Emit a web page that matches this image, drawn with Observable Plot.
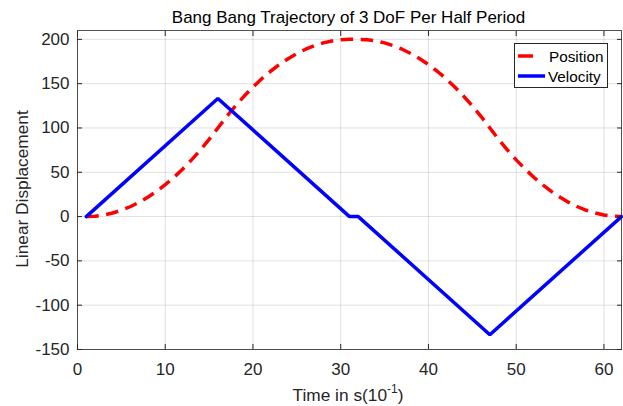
<!DOCTYPE html>
<html>
<head>
<meta charset="utf-8">
<script src="https://cdn.jsdelivr.net/npm/d3@7"></script>
<script src="https://cdn.jsdelivr.net/npm/@observablehq/plot@0.6"></script>
<style>
  html, body { margin: 0; padding: 0; background: #fff; }
  #chart { width: 623px; height: 406px; }
</style>
</head>
<body>
<div id="chart"></div>
<script>
const titleText = "Bang Bang Trajectory of 3 DoF Per Half Period";
const xLabelMain = "Time in s(10";
const xLabelSup = "-1";
const xLabelEnd = ")";
const yLabelText = "Linear Displacement";
const seriesNames = ["Position", "Velocity"];
const seriesColors = ["#ff0000", "#0000ff"];

const positionTime = [1,2,3,4,5,6,7,8,9,10,11,12,13,14,15,16,17,18,19,20,21,22,23,24,25,26,27,28,29,30,31,32,33,34,35,36,37,38,39,40,41,42,43,44,45,46,47,48,49,50,51,52,53,54,55,56,57,58,59,60,61,62];
const positionValue = [0,0.4,1.8,4,7.1,11.1,16,21.8,28.4,36,44.4,53.8,64,75.1,87.1,100,112.9,124.9,136,146.2,155.6,164,171.6,178.2,184,188.9,192.9,196,198.2,199.6,200,200,199.6,198.2,196,192.9,188.9,184,178.2,171.6,164,155.6,146.2,136,124.9,112.9,100,87.1,75.1,64,53.8,44.4,36,28.4,21.8,16,11.1,7.1,4,1.8,0.4,0];

const velocityTime = [1,16,31,32,47,62];
const velocityValue = [0,133.3,0,0,-133.3,0];

const xTicks = [0,10,20,30,40,50,60];
const yTicks = [-150,-100,-50,0,50,100,150,200];

const position = positionTime.map((t, i) => ({t, v: positionValue[i]}));
const velocity = velocityTime.map((t, i) => ({t, v: velocityValue[i]}));

const FONT = "'Liberation Sans', Arial, Helvetica, sans-serif";
const axisColor = "#262626";
const fmt = d => String(d);

const plot = Plot.plot({
  width: 623,
  height: 406,
  marginTop: 30,
  marginLeft: 77,
  marginRight: 2,
  marginBottom: 57,
  style: {fontFamily: FONT, fontSize: "17px", color: axisColor, background: "#fff"},
  x: {domain: [0, 62], ticks: xTicks},
  y: {domain: [-150, 210], ticks: yTicks},
  marks: [
    Plot.gridX(xTicks, {stroke: "#000", strokeOpacity: 0.12}),
    Plot.gridY(yTicks, {stroke: "#000", strokeOpacity: 0.12}),
    Plot.line(position, {x: "t", y: "v", stroke: seriesColors[0], strokeWidth: 3.5, strokeDasharray: "12.5,7.5", strokeLinecap: "butt"}),
    Plot.line(velocity, {x: "t", y: "v", stroke: seriesColors[1], strokeWidth: 3.5, strokeLinejoin: "miter"}),
    Plot.axisX(xTicks, {anchor: "bottom", tickSize: 0, tickPadding: 13, tickFormat: fmt, label: null, fontSize: 17, fill: axisColor}),
    Plot.axisY(yTicks, {anchor: "left", tickSize: 0, tickPadding: 8, tickFormat: fmt, label: null, fontSize: 17, fill: axisColor}),
    Plot.axisX(xTicks, {anchor: "bottom", tickSize: -5, tickFormat: () => "", label: null, stroke: axisColor}),
    Plot.axisX(xTicks, {anchor: "top", tickSize: -5, tickFormat: () => "", label: null, stroke: axisColor}),
    Plot.axisY(yTicks, {anchor: "left", tickSize: -5, tickFormat: () => "", label: null, stroke: axisColor}),
    Plot.axisY(yTicks, {anchor: "right", tickSize: -5, tickFormat: () => "", label: null, stroke: axisColor}),
    Plot.frame({stroke: axisColor, strokeOpacity: 0.8})
  ]
});

document.getElementById("chart").appendChild(plot);

const svg = d3.select(plot);

// Title
svg.append("text")
  .attr("x", 348.5).attr("y", 23)
  .attr("text-anchor", "middle")
  .attr("font-family", FONT).attr("font-size", 17)
  .attr("fill", "#000")
  .text(titleText);

// X label with superscript
const xl = svg.append("text")
  .attr("x", 348).attr("y", 401)
  .attr("text-anchor", "middle")
  .attr("font-family", FONT).attr("font-size", 17.3)
  .attr("fill", axisColor);
xl.append("tspan").text(xLabelMain);
xl.append("tspan").attr("dy", -8).attr("font-size", 12).text(xLabelSup);
xl.append("tspan").attr("dy", 8).text(xLabelEnd);

// Y label
svg.append("text")
  .attr("transform", "translate(27.5,189) rotate(-90)")
  .attr("text-anchor", "middle")
  .attr("font-family", FONT).attr("font-size", 17.3)
  .attr("fill", axisColor)
  .text(yLabelText);

// Legend
const lg = svg.append("g").attr("font-family", FONT).attr("font-size", 15.3).attr("text-anchor", "start");
lg.append("rect").attr("x", 514.5).attr("y", 43.5).attr("width", 93).attr("height", 44)
  .attr("fill", "#fff").attr("stroke", axisColor).attr("stroke-width", 1);
lg.append("line").attr("x1", 518).attr("x2", 545).attr("y1", 56).attr("y2", 56)
  .attr("stroke", seriesColors[0]).attr("stroke-width", 3.5).attr("stroke-dasharray", "15,20");
lg.append("line").attr("x1", 518).attr("x2", 545).attr("y1", 76).attr("y2", 76)
  .attr("stroke", seriesColors[1]).attr("stroke-width", 3.5);
lg.append("text").attr("x", 549).attr("y", 61.5).attr("fill", "#000").attr("text-anchor", "start").text(seriesNames[0]);
lg.append("text").attr("x", 548).attr("y", 82).attr("fill", "#000").attr("text-anchor", "start").text(seriesNames[1]);
</script>
</body>
</html>
